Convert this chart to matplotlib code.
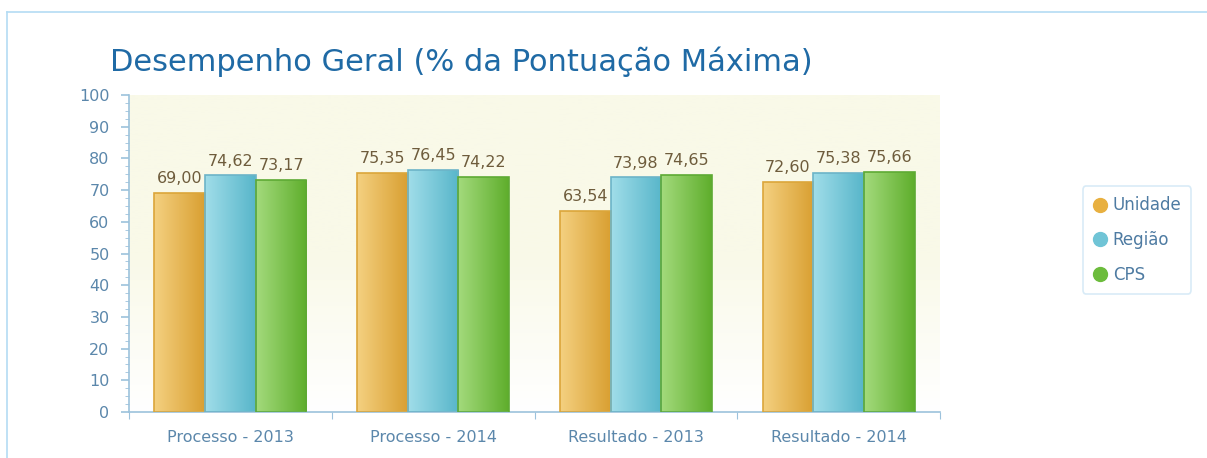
import numpy as np
import matplotlib
matplotlib.use("Agg")
import matplotlib.pyplot as plt
from matplotlib.lines import Line2D
from matplotlib.colors import LinearSegmentedColormap

categories = ["Processo - 2013", "Processo - 2014", "Resultado - 2013", "Resultado - 2014"]
series_names = ["Unidade", "Região", "CPS"]
unidade = [69.00, 75.35, 63.54, 72.60]
regiao = [74.62, 76.45, 73.98, 75.38]
cps = [73.17, 74.22, 74.65, 75.66]
yticks = list(range(0, 101, 10))

series = [unidade, regiao, cps]
grad = [("#f4d080", "#d9a032"), ("#a0dde9", "#58b6ca"), ("#a3da7c", "#5fae2c")]
edges = ["#dba63a", "#6cb4c8", "#5eaa34"]
legend_cols = ["#e8b040", "#70c4d6", "#6cbc3c"]

W, H = 1207, 458
fig = plt.figure(figsize=(W / 100, H / 100), dpi=100)
ax = fig.add_axes([129 / W, 1 - 412 / H, 811 / W, 317 / H])

# plot background gradient
bg = LinearSegmentedColormap.from_list("bg", ["#ffffff", "#f9f9e8", "#f9f9e8"])
ax.imshow(np.linspace(0, 1, 256).reshape(-1, 1), cmap=bg, aspect="auto",
          extent=[-0.5, len(categories) - 0.5, 0, 100], origin="lower", zorder=0)

x = np.arange(len(categories))
bw = 0.25
for i, vals in enumerate(series):
    bars = ax.bar(x + (i - 1) * bw, vals, width=bw, color="none",
                  edgecolor=edges[i], linewidth=1.2, zorder=3)
    cmap = LinearSegmentedColormap.from_list("g%d" % i, list(grad[i]))
    for b, v in zip(bars, vals):
        x0 = b.get_x()
        im = ax.imshow(np.linspace(0, 1, 64).reshape(1, -1), cmap=cmap, aspect="auto",
                       extent=[x0, x0 + b.get_width(), 0, v], zorder=2)
        im.set_clip_path(b)
        ax.annotate(f"{v:.2f}".replace(".", ","), (x0 + b.get_width() / 2, v),
                    xytext=(0, 5), textcoords="offset points", ha="center", va="bottom",
                    fontsize=11.5, color="#6e5c3c", zorder=5)

ax.set_xlim(-0.5, len(categories) - 0.5)
ax.set_ylim(0, 100)
axc = "#9cc2dc"
for s in ["top", "right"]:
    ax.spines[s].set_visible(False)
for s in ["left", "bottom"]:
    ax.spines[s].set_color(axc)
    ax.spines[s].set_linewidth(1.2)

ax.set_yticks(yticks)
ax.set_yticks(np.arange(0, 100.1, 2.5), minor=True)
ax.tick_params(axis="y", which="major", length=6, width=1.2, color=axc, labelcolor="#5b87ab",
               labelsize=11.5, pad=8)
ax.tick_params(axis="y", which="minor", length=3, color=axc)
ax.set_xticks(np.arange(len(categories) + 1) - 0.5)
ax.set_xticklabels([])
ax.set_xticks(x, minor=True)
ax.set_xticklabels(categories, minor=True)
ax.tick_params(axis="x", which="major", length=5, color=axc)
ax.tick_params(axis="x", which="minor", length=0, labelcolor="#5b87ab",
               labelsize=11.5, pad=13)

fig.text(110 / W, 1 - 62 / H, "Desempenho Geral (% da Pontuação Máxima)",
         fontsize=22, color="#1f6aa5", ha="left", va="center")

handles = [Line2D([], [], marker="o", linestyle="none", markersize=10,
                  markerfacecolor=c, markeredgecolor=c) for c in legend_cols]
leg = fig.legend(handles, series_names, loc="center", bbox_to_anchor=(1137 / W, 1 - 240 / H),
                 frameon=True, fontsize=12, labelcolor="#4e7ba2", handletextpad=0.3,
                 labelspacing=1.0, borderpad=0.6, handlelength=0.9, borderaxespad=0,
                 fancybox=True)
leg.get_frame().set_edgecolor("#cfe6f5")
leg.get_frame().set_linewidth(1.2)

# outer border
fig.add_artist(Line2D([7 / W, 1], [1 - 12 / H, 1 - 12 / H], color="#b4dcf4", lw=1.2))
fig.add_artist(Line2D([7 / W, 7 / W], [0, 1 - 12 / H], color="#b4dcf4", lw=1.2))

fig.savefig("out.png", dpi=100, facecolor="white")
